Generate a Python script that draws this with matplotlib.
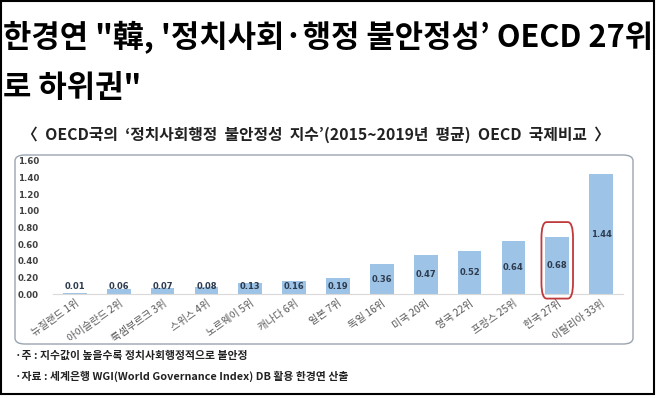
import matplotlib

matplotlib.use("Agg")
import matplotlib.pyplot as plt
from matplotlib.patches import FancyBboxPatch
from matplotlib.transforms import ScaledTranslation

plt.rcParams["font.family"] = ["Noto Sans CJK KR", "DejaVu Sans"]

# data
countries = ["뉴질랜드 1위", "아이슬란드 2위", "룩셈부르크 3위", "스위스 4위", "노르웨이 5위",
             "캐나다 6위", "일본 7위", "독일 16위", "미국 20위", "영국 22위",
             "프랑스 25위", "한국 27위", "이탈리아 33위"]
values = [0.01, 0.06, 0.07, 0.08, 0.13, 0.16, 0.19, 0.36, 0.47, 0.52, 0.64, 0.68, 1.44]
yticks = [0.0, 0.2, 0.4, 0.6, 0.8, 1.0, 1.2, 1.4, 1.6]
highlight = "한국 27위"

title_lines = ["한경연 \"韓, '정치사회·행정 불안정성’ OECD 27위", "로 하위권\""]
subtitle = "〈  OECD국의  ‘정치사회행정  불안정성  지수’(2015~2019년  평균)  OECD  국제비교  〉"
notes = ["·주 : 지수값이 높을수록 정치사회행정적으로 불안정",
         "·자료 : 세계은행 WGI(World Governance Index) DB 활용 한경연 산출"]

W, H = 657, 398
fig = plt.figure(figsize=(W / 100, H / 100), dpi=100)

# outer black frame
fig.patches.append(plt.Rectangle((0.5 / W, 1 - 393.5 / H), 653 / W, 393 / H,
                                 transform=fig.transFigure, fill=False,
                                 edgecolor="black", linewidth=1.5))

for j, line in enumerate(title_lines):
    fig.text(3 / W, 1 - (38 + 50 * j) / H, line, ha="left", va="center",
             fontsize=22.2, fontweight="bold", color="black")
fig.text(316 / W, 1 - 135 / H, subtitle, ha="center", va="center",
         fontsize=11.4, fontweight="bold", color="#222222")

# rounded chart panel
fig.patches.append(FancyBboxPatch((15 / W, 1 - 344 / H), 618 / W, 189 / H,
                                  boxstyle="round,pad=0,rounding_size=0.015",
                                  transform=fig.transFigure, facecolor="none",
                                  edgecolor="#9aa4b0", linewidth=1.0))

ax = fig.add_axes([53 / W, 1 - 294 / H, 570 / W, 133 / H])
ax.set_facecolor("none")
x = range(len(countries))
ax.bar(x, values, width=0.54, color="#9dc3e6", zorder=2)
for i, v in enumerate(values):
    ax.text(i, max(v / 2, 0.085), f"{v:.2f}", ha="center", va="center",
            fontsize=6, fontweight="bold", color="#2e3b4e", zorder=3,
            family="DejaVu Sans")

k = countries.index(highlight)
ax.add_patch(FancyBboxPatch((k - 0.36, -0.055), 0.72, 0.92,
                            boxstyle="round,pad=0,rounding_size=0.12",
                            mutation_aspect=1.6, fill=False,
                            edgecolor="#c0393b", linewidth=1.3, zorder=4,
                            clip_on=False))

ax.set_xlim(-0.5, len(countries) - 0.5)
ax.set_ylim(0, 1.6)
ax.set_yticks(yticks)
ax.set_yticklabels([f"{t:.2f}" for t in yticks], fontsize=6.2, color="#404040",
                   fontweight="bold", family="DejaVu Sans")
ax.set_xticks(list(x))
ax.set_xticklabels(countries, rotation=35, ha="right", va="top",
                   rotation_mode="anchor", fontsize=7.4, color="#595959")
shift = ScaledTranslation(10 / 100, 0, fig.dpi_scale_trans)
for lbl in ax.get_xticklabels():
    lbl.set_transform(lbl.get_transform() + shift)
ax.tick_params(axis="both", length=0)
ax.tick_params(axis="y", pad=10)
ax.tick_params(axis="x", pad=3)
for s in ["top", "right", "left"]:
    ax.spines[s].set_visible(False)
ax.spines["bottom"].set_color("#d9d9d9")

for j, n in enumerate(notes):
    fig.text(15 / W, 1 - (356 + 20 * j) / H, n, ha="left", va="center",
             fontsize=7.8, fontweight="bold", color="#222222")

fig.savefig("out.png", dpi=100)
